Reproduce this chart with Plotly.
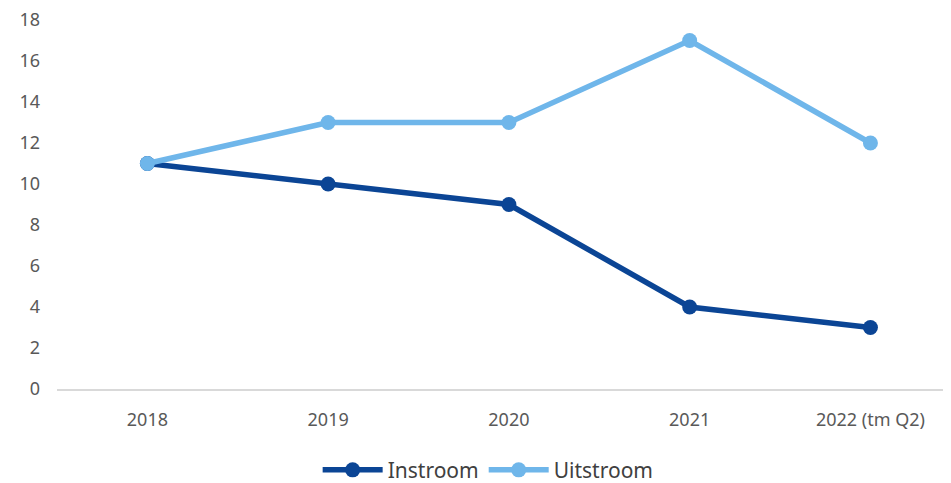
import plotly.graph_objects as go

categories = ["2018", "2019", "2020", "2021", "2022 (tm Q2)"]
instroom = [11, 10, 9, 4, 3]
uitstroom = [11, 13, 13, 17, 12]
y_ticks = [0, 2, 4, 6, 8, 10, 12, 14, 16, 18]

dark = "#0B4595"
light = "#6FB6EA"
font = "Noto Sans"

fig = go.Figure()
fig.add_trace(go.Scatter(x=categories, y=instroom, name="Instroom", mode="lines+markers",
                         line=dict(color=dark, width=5.5), marker=dict(size=15, color=dark)))
fig.add_trace(go.Scatter(x=categories, y=uitstroom, name="Uitstroom", mode="lines+markers",
                         line=dict(color=light, width=5.5), marker=dict(size=15, color=light)))

fig.update_layout(
    width=951, height=483,
    margin=dict(l=49, r=0, t=12, b=102, autoexpand=False),
    plot_bgcolor="white", paper_bgcolor="white",
    font=dict(family=font, size=18, color="#595959"),
    showlegend=True,
    legend=dict(orientation="h", x=0.478, xanchor="center", y=-0.22, yanchor="middle",
                font=dict(size=21, color="#404040"), itemwidth=60),
    xaxis=dict(type="category", range=[-0.5, 4.49], showgrid=False, showline=True,
               linecolor="#D9D9D9", linewidth=1.5, ticks="", ticklabelstandoff=14,
               zeroline=False, automargin=False, ticklabeloverflow="allow"),
    yaxis=dict(range=[0, 18], tickvals=y_ticks, showgrid=False, zeroline=False,
               showline=False, ticks="", ticklabelstandoff=16, automargin=False,
               ticklabeloverflow="allow"),
)

fig.write_html("out.html")
